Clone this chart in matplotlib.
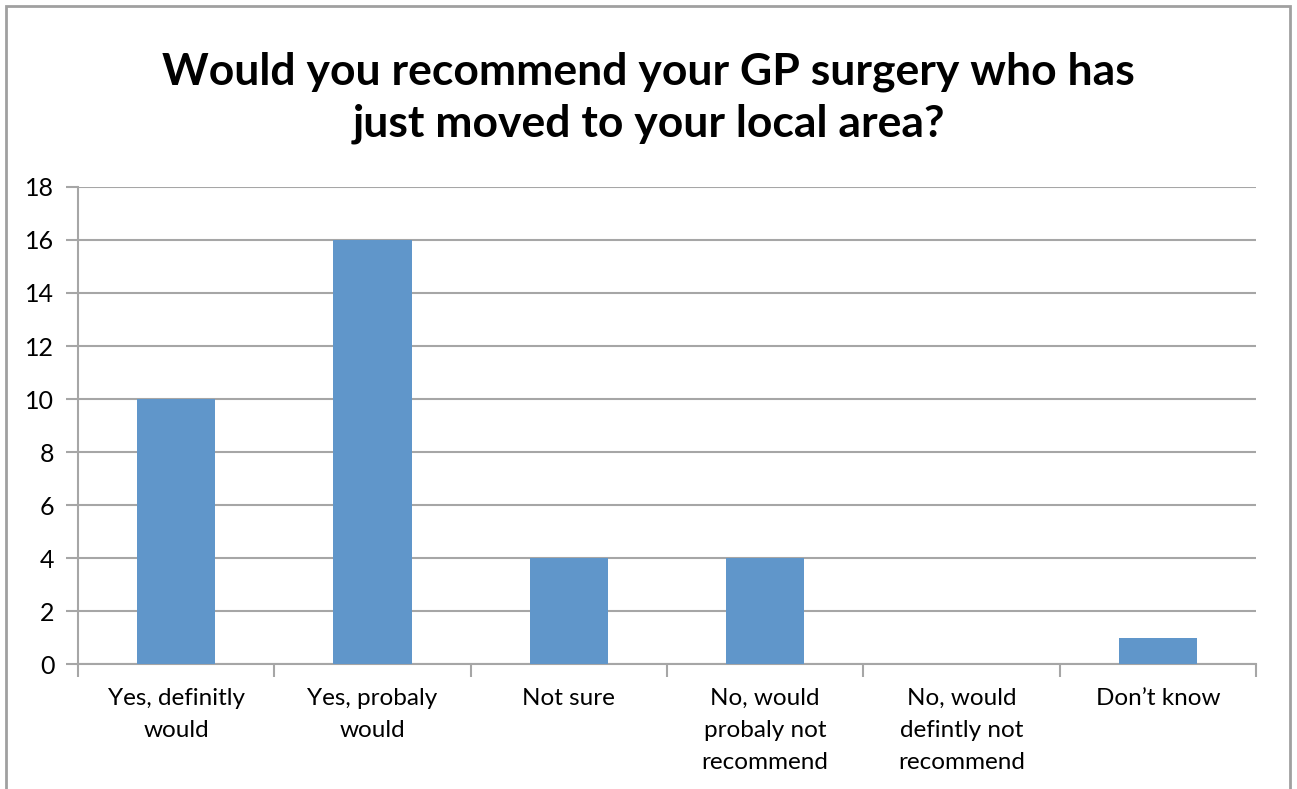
import matplotlib.pyplot as plt
import numpy as np
from matplotlib.patches import Rectangle

plt.rcParams['font.family'] = ['Lato', 'DejaVu Sans']

# survey answers and counts
categories = ['Yes, definitly\nwould', 'Yes, probaly\nwould', 'Not sure',
              'No, would\nprobaly not\nrecommend', 'No, would\ndefintly not\nrecommend',
              'Don\u2019t know']
counts = [10, 16, 4, 4, 0, 1]
yticks = [0, 2, 4, 6, 8, 10, 12, 14, 16, 18]

title = 'Would you recommend your GP surgery who has\njust moved to your local area?'

bar_color = '#6096CA'
grid_color = '#A6A6A6'

fig = plt.figure(figsize=(12.97, 7.89), dpi=100)
ax = fig.add_axes([0.0601, 0.1584, 0.9083, 0.6046])

x = np.arange(len(categories))
ax.bar(x, counts, width=0.4, color=bar_color, zorder=3)

ax.set_xlim(-0.5, len(categories) - 0.5)
ax.set_ylim(0, 18)
ax.set_yticks(yticks)
ax.yaxis.grid(True, color=grid_color, linewidth=1.5, zorder=0)
ax.tick_params(axis='y', length=9, width=1.5, color=grid_color, labelsize=18, pad=8)

# category labels sit between boundary ticks
ax.set_xticks(x)
ax.set_xticklabels(categories, fontsize=17.5, linespacing=1.67)
ax.tick_params(axis='x', length=0, pad=17)
ax.set_xticks(np.arange(len(categories) + 1) - 0.5, minor=True)
ax.tick_params(axis='x', which='minor', length=9, width=1.5, color=grid_color)

for side in ['top', 'right']:
    ax.spines[side].set_visible(False)
for side in ['left', 'bottom']:
    ax.spines[side].set_color(grid_color)
    ax.spines[side].set_linewidth(1.5)

fig.text(0.5, 0.876, title, ha='center', va='center', fontsize=32,
         fontweight='bold', linespacing=1.35)

# chart area border
fig.patches.append(Rectangle((6 / 1297, -0.05), 1284 / 1297, 1 - 6 / 789 + 0.05,
                             transform=fig.transFigure, fill=False,
                             edgecolor='#A0A0A0', linewidth=2))

fig.savefig('out.png', dpi=100)
